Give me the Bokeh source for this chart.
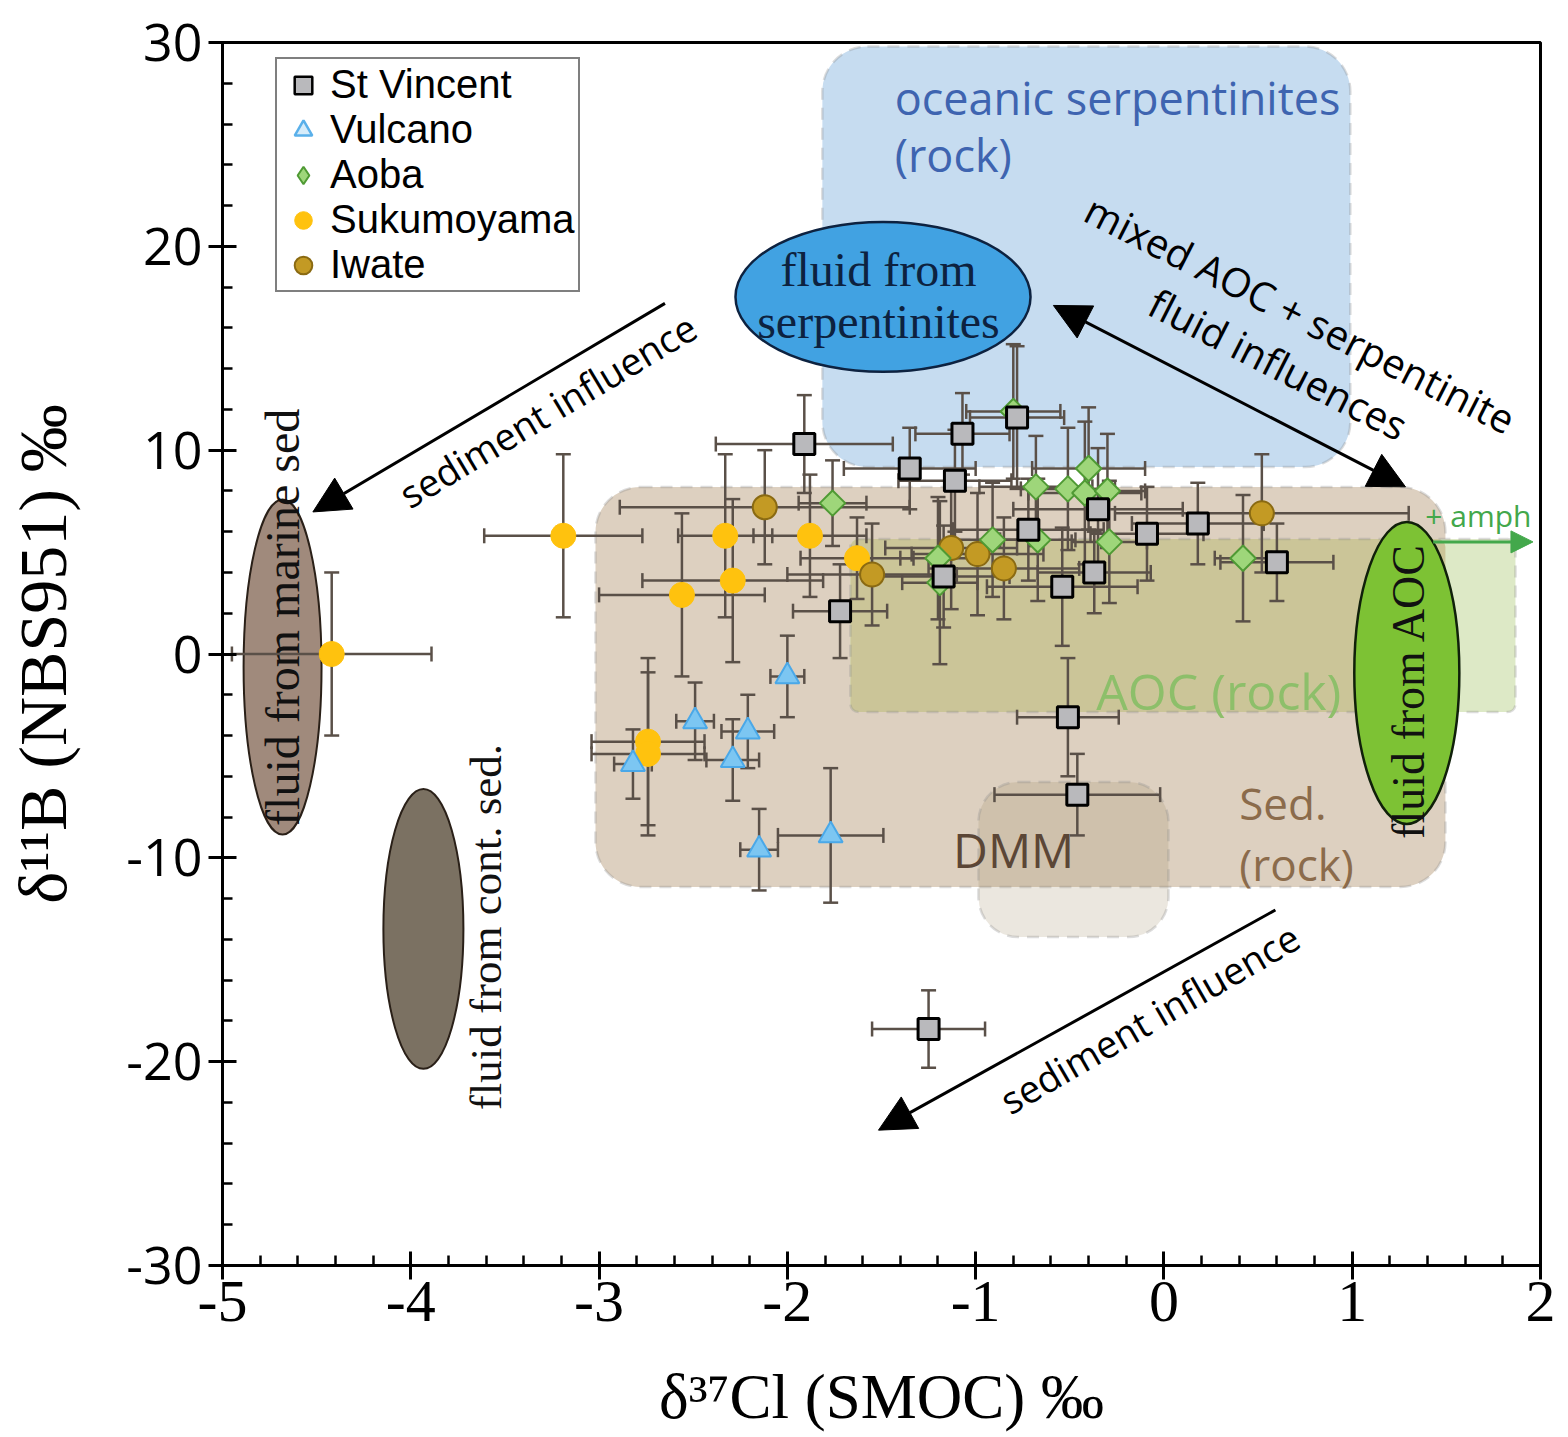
import numpy as np
from bokeh.plotting import figure
from bokeh.models import (BoxAnnotation, Arrow, NormalHead, FixedTicker,
                          Legend, LegendItem)
from bokeh.core.properties import value
from bokeh.embed import file_html
from bokeh.resources import INLINE

# ---------------- data (delta37Cl, delta11B, errors) ----------------
sv_x = [-1.91, -1.07, -0.78, -1.35, -1.11, -0.72, -0.35, -0.09, 0.18, 0.60,
        -0.37, -0.54, -1.17, -1.72, -0.51, -0.46, -1.25]
sv_y = [10.3, 10.8, 11.6, 9.1, 8.5, 6.1, 7.1, 5.9, 6.4, 4.5,
        4.0, 3.3, 3.8, 2.1, -3.1, -6.9, -18.4]
sv_xe = [0.47, 0.25, 0.25, 0.35, 0.30, 0.40, 0.45, 0.30, 0.35, 0.30,
         0.30, 0.40, 0.35, 0.25, 0.27, 0.44, 0.30]
sv_ye = [2.4, 2.0, 3.5, 2.0, 2.5, 2.5, 3.0, 2.3, 2.0, 1.9,
         2.0, 2.9, 2.5, 2.3, 2.9, 2.0, 1.9]

vu_x = [-2.00, -2.49, -2.21, -2.29, -2.82, -2.15, -1.77]
vu_y = [-1.1, -3.3, -3.8, -5.2, -5.4, -9.6, -8.9]
vu_xe = [0.09, 0.10, 0.14, 0.14, 0.10, 0.10, 0.28]
vu_ye = [2.0, 1.9, 1.8, 2.0, 1.7, 2.0, 3.3]

ao_x = [-1.76, -0.80, -0.68, -0.40, -0.51, -0.42, -0.30, -0.67, -0.29,
        -0.91, -1.20, -1.19, 0.42]
ao_y = [7.4, 11.9, 8.2, 9.1, 8.1, 7.9, 8.0, 5.6, 5.5, 5.6, 4.7, 3.5, 4.7]
ao_xe = [0.18, 0.25, 0.30, 0.30, 0.25, 0.30, 0.20, 0.20, 0.20, 0.20,
         0.20, 0.20, 0.15]
ao_ye = [2.1, 3.3, 2.5, 3.0, 3.0, 3.5, 2.8, 3.0, 3.0, 2.8, 3.0, 4.0, 3.1]

su_x = [-4.42, -3.19, -2.33, -1.88, -2.29, -2.56, -1.63, -2.74, -2.74]
su_y = [0.0, 5.8, 5.8, 5.8, 3.6, 2.9, 4.7, -4.3, -4.9]
su_xe = [0.53, 0.42, 0.25, 0.30, 0.48, 0.44, 0.30, 0.30, 0.30]
su_ye = [4.0, 4.0, 4.0, 3.0, 4.0, 4.0, 2.0, 4.1, 4.0]

iw_x = [-2.12, -1.55, -1.13, -0.99, -0.85, 0.52]
iw_y = [7.2, 3.9, 5.2, 4.9, 4.2, 6.9]
iw_xe = [0.77, 0.45, 0.35, 0.35, 0.40, 0.78]
iw_ye = [2.8, 2.5, 3.0, 3.0, 2.5, 2.9]

x_ticks = [-5, -4, -3, -2, -1, 0, 1, 2]
y_ticks = [-30, -20, -10, 0, 10, 20, 30]

SANS = "Open Sans"
SERIF = "Liberation Serif"
EB = "#5a5048"

p = figure(frame_width=1318, frame_height=1223,
           min_border_left=222, min_border_right=28,
           min_border_top=42, min_border_bottom=172,
           x_range=(-5, 2), y_range=(-30, 30),
           output_backend="svg", toolbar_location=None)
p.grid.visible = False
p.outline_line_color = "black"
p.outline_line_width = 3
p.background_fill_color = "white"

# ---------------- shaded fields ----------------
dash = "12 8"
grey = "#8c8c8c"
p.add_layout(BoxAnnotation(left=-1.814, right=0.990, top=29.8, bottom=9.18,
                           fill_color="#c6dcf0", fill_alpha=1.0,
                           line_color=grey, line_dash=dash, line_width=2.5,
                           border_radius=45, level="underlay"))
p.add_layout(BoxAnnotation(left=-3.019, right=1.495, top=8.19, bottom=-11.43,
                           fill_color="#ddd0c0", fill_alpha=1.0,
                           line_color=grey, line_dash=dash, line_width=2.5,
                           border_radius=45, level="underlay"))
p.add_layout(BoxAnnotation(left=-1.665, right=1.867, top=5.64, bottom=-2.85,
                           fill_color="#dde9c6", fill_alpha=1.0,
                           line_color=None, border_radius=8, level="underlay"))
p.add_layout(BoxAnnotation(left=-1.665, right=1.495, top=5.64, bottom=-2.85,
                           fill_color="#cbc598", fill_alpha=1.0,
                           line_color=None, border_radius=8, level="underlay"))
p.add_layout(BoxAnnotation(left=-1.665, right=1.867, top=5.64, bottom=-2.85,
                           fill_color=None, fill_alpha=0.0,
                           line_color=grey, line_dash=dash, line_width=2.5,
                           border_radius=8, level="underlay"))
p.add_layout(BoxAnnotation(left=-0.985, right=0.024, top=-6.28, bottom=-13.89,
                           fill_color="#9b875f", fill_alpha=0.2,
                           line_color=grey, line_dash=dash, line_width=2.5,
                           border_radius=40, level="underlay"))

# ---------------- field labels ----------------
def label(x, y, t, size, color, font=SANS, align="left", angle=0.0):
    p.text(x=[x], y=[y], text=[t], angle=angle, text_font=value(font),
           text_font_size=value(f"{size}px"), text_color=color,
           text_align=align, text_baseline="middle")

label(-1.43, 27.3, "oceanic serpentinites", 45, "#3e64b0")
label(-1.43, 24.5, "(rock)", 45, "#3e64b0")
label(-0.36, -1.8, "AOC (rock)", 50, "#8dbf6a")
label(0.40, -7.3, "Sed.", 44, "#8b6b4b")
label(0.40, -10.3, "(rock)", 44, "#8b6b4b")
label(-1.12, -9.6, "DMM", 48, "#5b4636")

# ---------------- fluid ellipses ----------------
p.ellipse(x=[-1.492], y=[17.52], width=[1.567], height=[7.36],
          fill_color="#41a2e2", line_color="#0d2240", line_width=2.5)
p.ellipse(x=[-4.681], y=[-0.64], width=[0.414], height=[16.44],
          fill_color="#a08a7c", line_color="#2a2018", line_width=2)
p.ellipse(x=[-3.933], y=[-13.49], width=[0.425], height=[13.74],
          fill_color="#7b7162", line_color="#2a2018", line_width=2)
p.ellipse(x=[1.290], y=[-0.93], width=[0.558], height=[14.82],
          fill_color="#7dc234", line_color="#10200a", line_width=2.5)

label(-1.516, 18.84, "fluid from", 48, "#0d2240", SERIF, "center")
label(-1.516, 16.29, "serpentinites", 48, "#0d2240", SERIF, "center")
label(-4.68, 1.8, "fluid from marine sed", 48, "#111111", SERIF, "center", np.pi / 2)
label(-3.60, -13.4, "fluid from cont. sed.", 45, "#111111", SERIF, "center", np.pi / 2)
label(1.30, -1.8, "fluid from AOC", 46, "#111111", SERIF, "center", np.pi / 2)

# ---------------- error bars ----------------
def errorbars(xs, ys, xes, yes):
    x = np.array(xs); y = np.array(ys); xe = np.array(xes); ye = np.array(yes)
    p.segment(x0=x - xe, y0=y, x1=x + xe, y1=y, line_color=EB, line_width=2.5)
    p.segment(x0=x, y0=y - ye, x1=x, y1=y + ye, line_color=EB, line_width=2.5)
    p.scatter(x=np.concatenate([x - xe, x + xe]), y=np.concatenate([y, y]),
              marker="dash", angle=np.pi / 2, size=15, line_color=EB, line_width=2.5)
    p.scatter(x=np.concatenate([x, x]), y=np.concatenate([y - ye, y + ye]),
              marker="dash", size=15, line_color=EB, line_width=2.5)

errorbars(su_x, su_y, su_xe, su_ye)
errorbars(vu_x, vu_y, vu_xe, vu_ye)
errorbars(iw_x, iw_y, iw_xe, iw_ye)
errorbars(ao_x, ao_y, ao_xe, ao_ye)
errorbars(sv_x, sv_y, sv_xe, sv_ye)

# ---------------- markers ----------------
SU = dict(fill_color="#ffc20e", line_color="#ffc20e", line_width=1)
VU = dict(fill_color="#7cc6f2", line_color="#4aa8e8", line_width=2)
IW = dict(fill_color="#c39a24", line_color="#8a6a12", line_width=2)
AO = dict(fill_color="#9ed67a", line_color="#4f9a34", line_width=2)
SV = dict(fill_color="#b9b9bc", line_color="black", line_width=3)

r_su = p.scatter(su_x, su_y, marker="circle", size=25, **SU)
r_vu = p.scatter(vu_x, vu_y, marker="triangle", size=24, **VU)
r_iw = p.scatter(iw_x, iw_y, marker="circle", size=24, **IW)
r_ao = p.scatter(ao_x, ao_y, marker="square", angle=np.pi / 4, size=18, **AO)
r_sv = p.scatter(sv_x, sv_y, marker="square", size=21, **SV)

# legend-only glyphs (NaN position, never drawn in the plot area)
nan = [float("nan")]
l_sv = p.scatter(x=nan, y=nan, marker="square", **dict(SV, line_width=2.5))
l_vu = p.scatter(x=nan, y=nan, marker="triangle", fill_color="#d6ecfa",
                 line_color="#5ab0ea", line_width=2.5)
l_ao = p.scatter(x=nan, y=nan, marker="diamond", **AO)
l_su = p.scatter(x=nan, y=nan, marker="circle", **SU)
l_iw = p.scatter(x=nan, y=nan, marker="circle", **IW)

# ---------------- arrows ----------------
def arrow(x0, y0, x1, y1, color="black", size=36, both=False, lw=3):
    head = dict(size=size, fill_color=color, line_color=color, line_width=1)
    p.add_layout(Arrow(x_start=x0, y_start=y0, x_end=x1, y_end=y1,
                       line_color=color, line_width=lw,
                       end=NormalHead(**head),
                       start=NormalHead(**head) if both else None))

arrow(-2.65, 17.2, -4.52, 6.97)
arrow(-0.587, 17.1, 1.283, 8.2, both=True)
arrow(0.592, -12.56, -1.516, -23.36)
arrow(1.43, 5.5, 1.96, 5.5, color="#43a84b", size=22, lw=3)

label(-3.274, 11.97, "sediment influence", 38, "black", SANS, "center", 0.54)
label(0.725, 16.68, "mixed AOC + serpentinite", 40, "black", SANS, "center", -0.47)
label(0.608, 14.23, "fluid influences", 40, "black", SANS, "center", -0.47)
label(-0.077, -17.86, "sediment influence", 38, "black", SANS, "center", 0.525)
label(1.67, 6.8, "+ amph", 30, "#43a84b", SANS, "center")

# ---------------- legend ----------------
legend = Legend(items=[LegendItem(label="St Vincent", renderers=[l_sv]),
                       LegendItem(label="Vulcano", renderers=[l_vu]),
                       LegendItem(label="Aoba", renderers=[l_ao]),
                       LegendItem(label="Sukumoyama", renderers=[l_su]),
                       LegendItem(label="Iwate", renderers=[l_iw])],
                location=(53, 973), label_text_font="Liberation Sans",
                label_text_font_size="40px", label_text_color="black",
                glyph_height=44, glyph_width=46,
                spacing=0, padding=3, label_standoff=4, margin=0,
                border_line_color="black", border_line_width=2.5,
                background_fill_alpha=1.0)
p.add_layout(legend)

# ---------------- axes ----------------
p.xaxis.ticker = FixedTicker(ticks=x_ticks,
                             minor_ticks=[round(v, 1) for v in np.arange(-5, 2.001, 0.2)])
p.yaxis.ticker = FixedTicker(ticks=y_ticks, minor_ticks=list(range(-30, 31, 2)))
p.xaxis.major_label_overrides = {float(t): str(t) for t in x_ticks}
p.yaxis.major_label_overrides = {float(t): str(t) for t in y_ticks}
for ax in (p.xaxis[0], p.yaxis[0]):
    ax.axis_line_width = 3
    ax.major_tick_line_width = 3
    ax.minor_tick_line_width = 2.5
    ax.major_tick_in = 14
    ax.major_tick_out = 14
    ax.minor_tick_in = 10
    ax.minor_tick_out = 0
    ax.axis_label_text_font = SERIF
    ax.axis_label_text_font_style = "normal"
    ax.axis_label_text_color = "black"
    ax.major_label_text_color = "black"

p.xaxis.major_label_text_font = SERIF
p.xaxis.major_label_text_font_size = "60px"
p.xaxis.major_label_standoff = 2
p.yaxis.major_label_text_font = SANS
p.yaxis.major_label_text_font_size = "52px"
p.yaxis.major_label_standoff = 6
p.xaxis.axis_label = "δ³⁷Cl (SMOC) ‰"
p.yaxis.axis_label = "δ¹¹B (NBS951) ‰"
p.xaxis.axis_label_text_font_size = "63px"
p.yaxis.axis_label_text_font_size = "68px"
p.xaxis.axis_label_standoff = 38
p.yaxis.axis_label_standoff = 42

open("out.html", "w").write(file_html(p, INLINE))
